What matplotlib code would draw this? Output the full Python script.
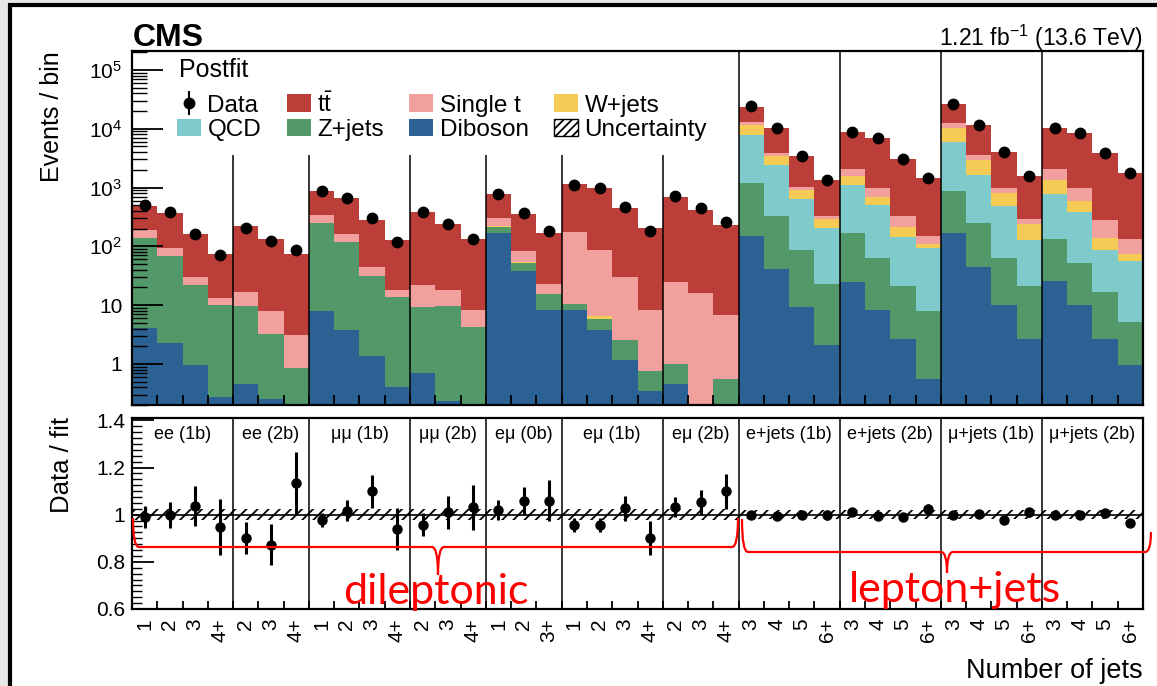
import numpy as np
import matplotlib
matplotlib.use("Agg")
import matplotlib.pyplot as plt
import matplotlib.transforms as mtransforms
from matplotlib.patches import Patch, PathPatch, Rectangle
from matplotlib.path import Path
from matplotlib.ticker import MultipleLocator, LogLocator, NullFormatter

plt.rcParams['font.family'] = ['Liberation Sans', 'DejaVu Sans']
plt.rcParams['mathtext.fontset'] = 'custom'
plt.rcParams['mathtext.rm'] = 'Liberation Sans'
plt.rcParams['mathtext.it'] = 'Liberation Sans:italic'
plt.rcParams['mathtext.bf'] = 'Liberation Sans:bold'
plt.rcParams['hatch.linewidth'] = 1.3

# ---- data (postfit yields per bin, 40 bins) ----
regions = ["ee (1b)", "ee (2b)", "μμ (1b)", "μμ (2b)", "eμ (0b)", "eμ (1b)", "eμ (2b)",
           "e+jets (1b)", "e+jets (2b)", "μ+jets (1b)", "μ+jets (2b)"]
region_nbins = [4, 3, 4, 3, 3, 4, 3, 4, 4, 4, 4]
jet_labels = ["1", "2", "3", "4+", "2", "3", "4+", "1", "2", "3", "4+", "2", "3", "4+",
              "1", "2", "3+", "1", "2", "3", "4+", "2", "3", "4+",
              "3", "4", "5", "6+", "3", "4", "5", "6+", "3", "4", "5", "6+", "3", "4", "5", "6+"]

diboson = [4.1, 2.3, 0.94, 0.27, 0.45, 0.25, 0.05, 7.8, 3.8, 1.38, 0.40, 0.70, 0.23, 0.05,
           171, 38, 8.1, 8.1, 3.8, 1.18, 0.35, 0.46, 0.05, 0.05,
           147, 41, 9.3, 2.1, 25, 8.4, 2.6, 0.56, 167, 45, 9.9, 2.66, 26, 9.9, 2.6, 0.94]
zjets = [134, 66.7, 21, 9.9, 9.05, 3.0, 0.8, 246, 115, 30.2, 13.6, 8.6, 9.6, 4.2,
         38, 15, 7.1, 2.3, 2.0, 1.4, 0.42, 0.54, 0.05, 0.51,
         1064, 289, 78, 20.7, 146, 55, 18.2, 7.5, 708, 209, 54.6, 18.1, 107, 42, 13.8, 4.3]
qcd = [0, 0, 0, 0, 0, 0, 0, 0, 0, 0, 0, 0, 0, 0,
       0, 0, 0, 0, 0, 0, 0, 0, 0, 0,
       6605, 2090, 546, 186, 936, 444, 126, 87, 5135, 1382, 422, 105, 637, 338, 69, 50]
wjets = [0, 0, 0, 0, 0, 0, 0, 0, 0, 0, 0, 0.15, 0, 0,
         11, 2, 0, 0, 0.8, 0, 0, 0, 0, 0,
         3744, 1060, 277, 84, 466, 194, 70, 14, 4390, 1304, 313, 112, 576, 202, 53, 20]
singlet = [53, 25, 8, 3.0, 6.9, 4.8, 2.3, 89, 42, 13.4, 3.8, 12.5, 8.0, 3.85,
           88, 29, 7.8, 168, 80, 27, 7.6, 24, 16, 6.2,
           1590, 435, 126, 37, 496, 295, 113, 42, 1950, 635, 173, 52, 699, 381, 144, 58]
ttbar = [296, 281, 131, 61, 207, 126, 71, 543, 497, 237, 108, 358, 220, 124,
         462, 268, 148, 959, 909, 426, 196, 659, 401, 225,
         10490, 6245, 2444, 1016, 6621, 5874, 2730, 1287, 13600, 7985, 3092, 1283, 8355, 7377, 3538, 1657]
data = [500, 380, 165, 71, 205, 123, 85, 860, 670, 308, 119, 380, 240, 135,
        780, 375, 183, 1120, 980, 470, 185, 720, 445, 260,
        24000, 10200, 3480, 1350, 8690, 6870, 3060, 1480, 26000, 11800, 4065, 1590, 10400, 8500, 3820, 1790]

ratio = [0.99, 1.0, 1.035, 0.947, 0.90, 0.873, 1.134, 0.976, 1.017, 1.099, 0.94, 0.958, 1.011, 1.031,
         1.021, 1.059, 1.06, 0.958, 0.958, 1.028, 0.90, 1.032, 1.052, 1.099,
         1.0, 0.996, 0.998, 0.998, 1.011, 0.994, 0.992, 1.025, 1.0, 1.004, 0.979, 1.01, 1.0, 1.0, 1.008, 0.965]
ratio_err = [0.045, 0.055, 0.085, 0.12, 0.068, 0.086, 0.13, 0.03, 0.045, 0.07, 0.09, 0.05, 0.07, 0.094,
             0.042, 0.059, 0.085, 0.03, 0.03, 0.053, 0.072, 0.042, 0.053, 0.074,
             0.005, 0.007, 0.012, 0.02, 0.007, 0.008, 0.012, 0.02, 0.005, 0.007, 0.01, 0.02, 0.006, 0.008, 0.012, 0.015]
fit_unc = [0.022] * 24 + [0.02] * 16

processes = [("Diboson", diboson, "#2c6293"),
             ("Z+jets", zjets, "#529869"),
             ("QCD", qcd, "#7fcbcc"),
             ("W+jets", wjets, "#f6cb55"),
             ("Single t", singlet, "#f1a09e"),
             (r"t$\mathrm{\bar{t}}$", ttbar, "#bc3e38")]

W, H = 1157, 686


def fx(x):
    return x / W


def fy(y):
    return 1 - y / H


fig = plt.figure(figsize=(W / 100, H / 100), dpi=100)
fig.patch.set_facecolor("#e8e8e8")
fig.add_artist(Rectangle((fx(10), -0.1), 1.2, fy(5) + 0.1, transform=fig.transFigure,
                         facecolor="white", edgecolor="black", lw=3, zorder=-5))

ax = fig.add_axes([fx(132), fy(405), fx(1143) - fx(132), fy(51) - fy(405)])
rax = fig.add_axes([fx(132), fy(609), fx(1143) - fx(132), fy(418) - fy(609)])

nbins = len(data)
edges = np.arange(nbins + 1)
centers = edges[:-1] + 0.5
bounds = np.cumsum(region_nbins)[:-1]

# ---- top panel: stacked histogram ----
base = np.full(nbins, 1e-3)
handles = {}
for name, vals, col in processes:
    top = base + np.array(vals)
    ax.stairs(top, edges, baseline=base, fill=True, color=col, lw=0)
    handles[name] = Patch(facecolor=col, edgecolor="none")
    base = top

dat = ax.errorbar(centers, data, yerr=np.sqrt(data), fmt="o", color="k", ms=7.5,
                  elinewidth=1.5, capsize=0, zorder=5)

for b in bounds:
    if b < 24:
        ax.vlines(b, 0.2, 3.6e3, color="k", lw=1.1, zorder=4)
    else:
        ax.axvline(b, color="k", lw=1.1, zorder=4)

ax.set_yscale("log")
ax.set_xlim(0, nbins)
ax.set_ylim(0.2, 2.1e5)
ax.set_yticks([1, 10, 1e2, 1e3, 1e4, 1e5],
              ["1", "10", r"$10^{2}$", r"$10^{3}$", r"$10^{4}$", r"$10^{5}$"])
ax.yaxis.set_minor_locator(LogLocator(base=10, subs=np.arange(2, 10), numticks=20))
ax.yaxis.set_minor_formatter(NullFormatter())
ax.set_xticks(edges)
ax.tick_params(axis="y", which="major", direction="in", length=22, width=1.3, labelsize=15, pad=7)
ax.tick_params(axis="y", which="minor", direction="in", length=11, width=1.0)
ax.tick_params(axis="x", which="major", direction="in", length=7, width=1.3, labelbottom=False)
for s in ax.spines.values():
    s.set_linewidth(1.6)

ax.text(fx(179), fy(77), "Postfit", transform=fig.transFigure, fontsize=18, va="baseline")

unc_patch = Patch(facecolor="white", edgecolor="k", hatch="////", lw=1)
leg_h = [dat, handles["QCD"], handles[r"t$\mathrm{\bar{t}}$"], handles["Z+jets"],
         handles["Single t"], handles["Diboson"], handles["W+jets"], unc_patch]
leg_l = ["Data", "QCD", r"t$\mathrm{\bar{t}}$", "Z+jets", "Single t", "Diboson", "W+jets", "Uncertainty"]
ax.legend(leg_h, leg_l, ncol=4, loc="upper left", bbox_to_anchor=((177 - 132) / 1011, (405 - 92) / 354),
          frameon=False, fontsize=17.5, borderpad=0, borderaxespad=0, handlelength=1.0,
          handleheight=0.72, handletextpad=0.25, columnspacing=1.05, labelspacing=0.1)

# ---- ratio panel ----
unc = np.array(fit_unc)
rax.stairs(1 + unc, edges, baseline=1 - unc, fill=True, facecolor="none", edgecolor="k",
           hatch="///", lw=0)
rax.axhline(1, color="k", lw=1.2)
rax.errorbar(centers, ratio, yerr=ratio_err, fmt="o", color="k", ms=6.5, elinewidth=2.2, capsize=0, zorder=5)
for b in bounds:
    rax.axvline(b, color="k", lw=1.1)

trans = mtransforms.blended_transform_factory(rax.transData, rax.transAxes)
start = 0
for name, n in zip(regions, region_nbins):
    rax.text(start + n / 2, 0.915, name, transform=trans, ha="center", va="center", fontsize=13)
    start += n

rax.set_xlim(0, nbins)
rax.set_ylim(0.6, 1.41)
rax.set_yticks([0.6, 0.8, 1.0, 1.2, 1.4], ["0.6", "0.8", "1", "1.2", "1.4"])
rax.yaxis.set_minor_locator(MultipleLocator(0.025))
rax.set_xticks(edges, [""] * len(edges))
rax.set_xticks(centers, jet_labels, minor=True)
rax.tick_params(axis="y", which="major", direction="in", length=16, width=1.3, labelsize=15, pad=5)
rax.tick_params(axis="y", which="minor", direction="in", length=7, width=1.0)
rax.tick_params(axis="x", which="major", direction="in", length=6, width=1.3)
rax.tick_params(axis="x", which="minor", length=0, labelsize=15, labelrotation=90, pad=7)
for s in rax.spines.values():
    s.set_linewidth(1.6)

# ---- labels ----
fig.text(fx(133), fy(46), "CMS", fontsize=23, fontweight="bold", va="baseline", ha="left")
fig.text(fx(1143), fy(46), r"1.21 fb$^{\mathregular{-1}}$ (13.6 TeV)", fontsize=16.5,
         va="baseline", ha="right")
fig.text(fx(52), fy(51), "Events / bin", rotation=90, fontsize=18, ha="center", va="top")
fig.text(fx(62), fy(417), "Data / fit", rotation=90, fontsize=18.5, ha="center", va="top")
fig.text(fx(1143), fy(678), "Number of jets", fontsize=19.5, ha="right", va="baseline")


# ---- red annotation braces ----
def brace(xl, xr, xtip, yl, yr, yline, ytip, r=6):
    pts = [(xl, yl), (xl, yline), (xl + r, yline), (xtip - r, yline),
           (xtip, yline), (xtip, ytip), (xtip, yline), (xtip + r, yline),
           (xr - r, yline), (xr, yline), (xr, yr)]
    codes = [Path.MOVETO, Path.CURVE3, Path.CURVE3, Path.LINETO,
             Path.CURVE3, Path.CURVE3, Path.CURVE3, Path.CURVE3,
             Path.LINETO, Path.CURVE3, Path.CURVE3]
    verts = [(fx(x), fy(y)) for x, y in pts]
    fig.add_artist(PathPatch(Path(verts, codes), transform=fig.transFigure, fill=False,
                             edgecolor="red", lw=1.6, zorder=10))


brace(133, 738, 438, 518, 518, 547, 575)
brace(742, 1151, 947, 519, 532, 552, 573)
fig.text(fx(436), fy(604), "dileptonic", color="red", fontsize=31, family=["Lato", "DejaVu Sans"],
         ha="center", va="baseline", zorder=11)
fig.text(fx(955), fy(602), "lepton+jets", color="red", fontsize=31, family=["Lato", "DejaVu Sans"],
         ha="center", va="baseline", zorder=11)

fig.savefig("out.png", dpi=100, facecolor=fig.get_facecolor())
